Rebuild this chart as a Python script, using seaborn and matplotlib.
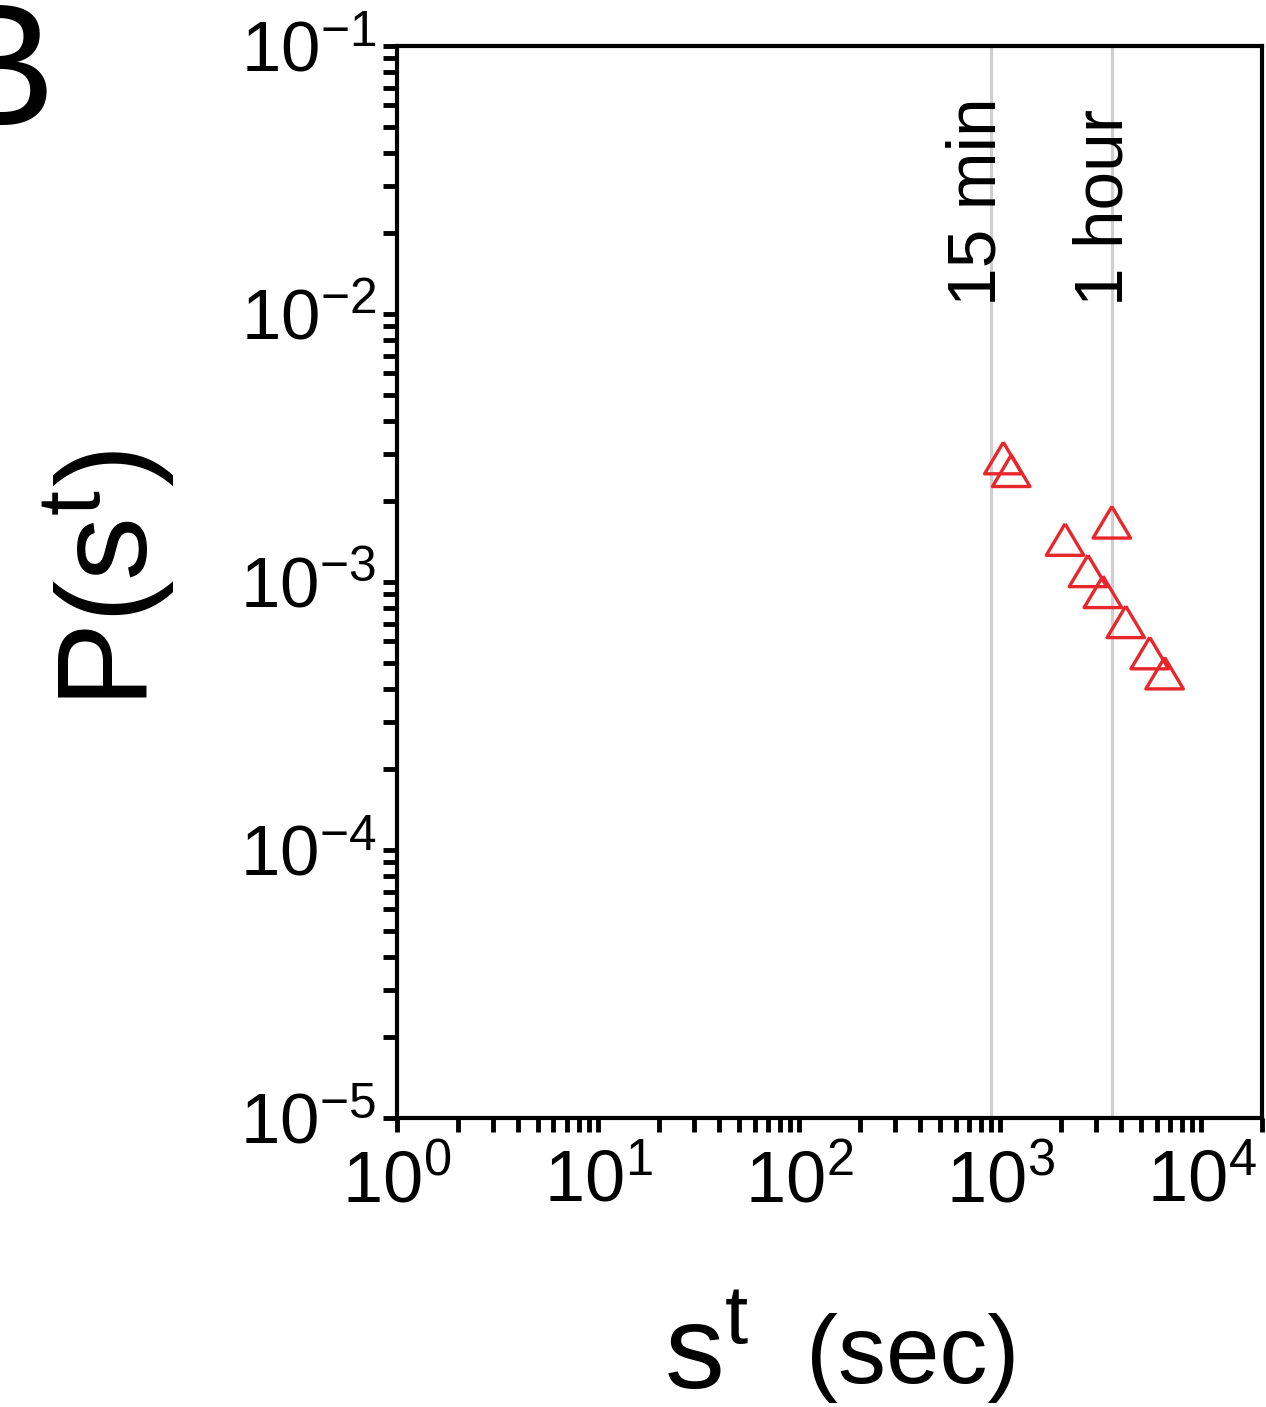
import numpy as np
import pandas as pd
import matplotlib
matplotlib.use("Agg")
import matplotlib.pyplot as plt
import matplotlib.ticker as mticker
import seaborn as sns

# ---- data ----
wait_sec = [1035, 1133, 3584, 2098, 2727, 3236, 4204, 5530, 6558]
prob = [2.90e-3, 2.60e-3, 1.67e-3, 1.44e-3, 1.10e-3, 9.19e-4, 7.10e-4, 5.43e-4, 4.57e-4]
ref_lines_sec = [900, 3600]
ref_labels = ["15 min", "1 hour"]
x_limits = [1, 2e4]
y_limits = [1e-5, 1e-1]

sns.set_theme(style="ticks")
plt.rcParams["font.family"] = ["Liberation Sans", "DejaVu Sans"]
plt.rcParams["mathtext.fontset"] = "custom"
plt.rcParams["mathtext.rm"] = "Liberation Sans"
plt.rcParams["mathtext.it"] = "Liberation Sans"
plt.rcParams["mathtext.default"] = "regular"
for k in ["text.color", "axes.labelcolor", "xtick.color", "ytick.color", "axes.edgecolor"]:
    plt.rcParams[k] = "black"

W, H = 1266, 1407
fig = plt.figure(figsize=(W / 100, H / 100), dpi=100)
L, R, T, B = 397, 1262, 46, 1118
ax = fig.add_axes([L / W, (H - B) / H, (R - L) / W, (B - T) / H])

df = pd.DataFrame({"x": wait_sec, "y": prob})

# reference vertical lines
for xv in ref_lines_sec:
    ax.axvline(xv, color="#cfcfcf", lw=2.3, zorder=1)

tri = [(0, 0.42), (-0.5, -0.42), (0.5, -0.42), (0, 0.42)]
sns.scatterplot(data=df, x="x", y="y", ax=ax, marker=tri, s=27 ** 2,
                facecolors="none", edgecolor="#e8262b", linewidth=2.4, zorder=3)

ax.set_xscale("log")
ax.set_yscale("log")
ax.set_xlim(*x_limits)
ax.set_ylim(*y_limits)

ax.xaxis.set_major_locator(mticker.LogLocator(base=10, numticks=10))
ax.xaxis.set_minor_locator(mticker.LogLocator(base=10, subs=np.arange(2, 10), numticks=20))
ax.yaxis.set_major_locator(mticker.LogLocator(base=10, numticks=10))
ax.yaxis.set_minor_locator(mticker.LogLocator(base=10, subs=np.arange(2, 10), numticks=20))
ax.xaxis.set_minor_formatter(mticker.NullFormatter())
ax.yaxis.set_minor_formatter(mticker.NullFormatter())

for sp in ax.spines.values():
    sp.set_linewidth(3.0)
    sp.set_color("black")

ax.tick_params(which="both", direction="out", length=10, width=3.5, color="black",
               top=False, right=False)
ax.tick_params(axis="x", which="major", labelsize=52, pad=12)
ax.tick_params(axis="y", which="major", labelsize=51, pad=5)

ax.set_ylabel(r"P(s$^{t}$)", fontsize=92)
ax.yaxis.set_label_coords((177 - L) / (R - L), 0.503)

ax.set_xlabel(r"s$^{t}$", fontsize=86, ha="left", va="baseline")
ax.xaxis.set_label_coords((664 - L) / (R - L), (B - 1388) / (B - T))
ax.text((806 - L) / (R - L), (B - 1383) / (B - T), "(sec)", fontsize=69,
        ha="left", va="baseline", transform=ax.transAxes, clip_on=False)

# vertical labels next to reference lines
for xv, lab, dx in zip(ref_lines_sec, ref_labels, [4, 10]):
    ax.annotate(lab, xy=(xv, (B - 306) / (B - T)), xycoords=("data", "axes fraction"),
                xytext=(dx, 0), textcoords="offset pixels", rotation=90,
                rotation_mode="anchor", ha="left", va="baseline", fontsize=50)

# panel letter
fig.text(55 / W, (H - 125) / H, "B", fontsize=125, ha="right", va="baseline")

fig.savefig("out.png", dpi=100)
